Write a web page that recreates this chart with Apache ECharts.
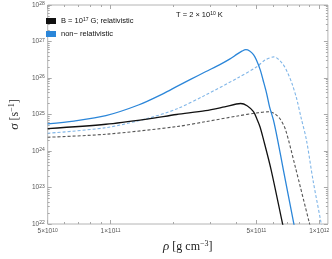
<!DOCTYPE html>
<html><head><meta charset="utf-8">
<script src="https://cdn.jsdelivr.net/npm/echarts@6/dist/echarts.min.js"></script>
<style>html,body{margin:0;padding:0;background:#fff}#c{width:332px;height:259px}</style>
</head><body><div id="c"></div>
<script>
// ---- data ----
const relSolidRho   = [5.0e10, 9.5e10, 1.5e11, 2.07e11, 2.85e11, 3.52e11, 4.2e11, 4.51e11, 4.84e11, 5.05e11, 5.2e11, 5.38e11, 5.88e11, 6.66e11, 6.85e11];
const relSolidSigma = [4.1e24, 5.4e24, 7.5e24, 1.0e25, 1.28e25, 1.62e25, 2.0e25, 1.74e25, 1.19e25, 7.1e24, 4.6e24, 2.28e24, 3.05e23, 1.06e22, 5.1e21];

const nonRelSolidRho   = [5.0e10, 6.68e10, 9.5e10, 1.36e11, 1.8e11, 2.07e11, 2.43e11, 2.85e11, 3.34e11, 3.72e11, 4.04e11, 4.26e11, 4.45e11, 4.64e11, 4.84e11, 5.0e11, 5.22e11, 5.38e11, 5.59e11, 5.78e11, 6.03e11, 6.32e11, 6.73e11, 7.54e11, 7.73e11];
const nonRelSolidSigma = [5.5e24, 6.6e24, 9.3e24, 1.82e25, 3.8e25, 5.8e25, 9.3e25, 1.48e26, 2.32e26, 3.28e26, 4.5e26, 5.43e26, 5.97e26, 5.5e26, 4.36e26, 3.1e26, 1.64e26, 8.8e25, 3.87e25, 1.62e25, 7.1e24, 2.0e24, 3.05e23, 1.07e22, 5.1e21];

const relDashRho   = [5.0e10, 9.5e10, 2.07e11, 2.85e11, 4.06e11, 5.0e11, 5.78e11, 6.2e11, 6.54e11, 6.9e11, 7.67e11, 8.99e11, 9.27e11];
const relDashSigma = [2.38e24, 2.88e24, 4.65e24, 6.36e24, 9.1e24, 1.1e25, 1.19e25, 9.9e24, 7.1e24, 3.77e24, 3.75e23, 1.0e22, 5.1e21];

const nonRelDashRho   = [5.0e10, 9.5e10, 1.51e11, 2.07e11, 2.85e11, 4.06e11, 5.0e11, 5.5e11, 6.06e11, 6.66e11, 7.02e11, 7.4e11, 7.8e11, 8.17e11, 8.68e11, 9.35e11, 1.018e12, 1.045e12];
const nonRelDashSigma = [3.06e24, 4.36e24, 7.87e24, 1.41e25, 3.41e25, 1.0e26, 2.0e26, 3.1e26, 3.8e26, 2.5e26, 1.48e26, 7.1e25, 2.66e25, 8.5e24, 2.0e24, 1.5e23, 1.15e22, 5.1e21];

const xTickValues = [5e10, 1e11, 5e11, 1e12];
const yTickValues = [1e22, 1e23, 1e24, 1e25, 1e26, 1e27, 1e28];
const legendNames = ['B = 10^17 G; relativistic', 'non\u2212 relativistic'];

// ---- helpers ----
const X_MIN = 5e10, X_MAX = 1.1e12, Y_MIN = 1e22, Y_MAX = 1e28;
const xMinor = [];
[6,7,8,9].forEach(m => xMinor.push(m * 1e10));
[2,3,4,6,7,8,9].forEach(m => xMinor.push(m * 1e11));
const yMinor = [];
for (let e = 22; e < 28; e++) for (let m = 2; m <= 9; m++) yMinor.push(m * Math.pow(10, e));

const pairs = (xs, ys) => xs.map((x, i) => [x, ys[i]]);
const tickColor = '#a8a8a8';
const labelRich = {
  b: { fontSize: 6.5, fontFamily: 'Liberation Sans', color: '#555' },
  s: { fontSize: 5, fontFamily: 'Liberation Sans', color: '#555', verticalAlign: 'top' }
};
function xFmt(v) {
  const e = Math.floor(Math.log10(v) + 1e-9);
  const m = Math.round(v / Math.pow(10, e));
  return '{b|' + m + '\u00d710}{s|' + e + '}';
}
function yFmt(v) {
  const e = Math.round(Math.log10(v));
  return '{b|10}{s|' + e + '}';
}
function xAx(pos, ticks, len, withLabels) {
  const a = {
    type: 'log', logBase: 10, min: X_MIN, max: X_MAX, position: pos, gridIndex: 0,
    axisLine: { show: false }, splitLine: { show: false },
    axisTick: { show: true, inside: true, length: len, customValues: ticks, lineStyle: { color: tickColor, width: 1 } },
    axisLabel: { show: false }
  };
  if (withLabels) {
    a.axisLabel = { show: true, customValues: xTickValues, formatter: xFmt, margin: 4, rich: labelRich };
    a.name = '{i|\u03c1} [g cm{s|\u22123}]';
    a.nameLocation = 'middle';
    a.nameGap = 15;
    a.nameTextStyle = {
      fontFamily: 'Liberation Serif', fontSize: 12, color: '#222',
      rich: {
        i: { fontFamily: 'Liberation Serif', fontStyle: 'italic', fontSize: 13, color: '#222' },
        s: { fontFamily: 'Liberation Serif', fontSize: 8, color: '#222', verticalAlign: 'top' }
      }
    };
  }
  return a;
}
function yAx(pos, ticks, len, withLabels) {
  const a = {
    type: 'log', logBase: 10, min: Y_MIN, max: Y_MAX, position: pos, gridIndex: 0,
    axisLine: { show: false }, splitLine: { show: false },
    axisTick: { show: true, inside: true, length: len, customValues: ticks, lineStyle: { color: tickColor, width: 1 } },
    axisLabel: { show: false }
  };
  if (withLabels) {
    a.axisLabel = { show: true, customValues: yTickValues, formatter: yFmt, margin: 3, rich: labelRich };
    a.name = '{i|\u03c3} [s{s|\u22121}]';
    a.nameLocation = 'middle';
    a.nameGap = 17;
    a.nameTextStyle = {
      fontFamily: 'Liberation Serif', fontSize: 12, color: '#222',
      rich: {
        i: { fontFamily: 'Liberation Serif', fontStyle: 'italic', fontSize: 13, color: '#222' },
        s: { fontFamily: 'Liberation Serif', fontSize: 8, color: '#222', verticalAlign: 'top' }
      }
    };
  }
  return a;
}

const BLACK = '#111111', BLUE = '#2b86d9', LBLUE = '#80b6e8', GREY = '#555555';
function line(name, data, color, dashed, width) {
  return {
    name, type: 'line', data, xAxisIndex: 0, yAxisIndex: 0,
    symbol: 'none', showSymbol: false, smooth: 0.3,
    color: color, itemStyle: { color: color },
    lineStyle: { color: color, width: width, type: dashed ? [3, 2] : 'solid' },
    z: dashed ? 2 : 3, clip: true
  };
}

const chart = echarts.init(document.getElementById('c'), null, { renderer: 'canvas' });
chart.setOption({
  animation: false,
  backgroundColor: '#fff',
  grid: { left: 36, top: 5, right: 4, bottom: 35, show: true, borderColor: '#b4b4b4', borderWidth: 1, backgroundColor: 'transparent' },
  legend: {
    data: legendNames, orient: 'vertical', left: 41, top: 12, itemGap: 5,
    icon: 'rect', itemWidth: 10, itemHeight: 6,
    formatter: function (n) {
      if (n === legendNames[0]) return '{t|B = 10}{s|17}{t| G; relativistic}';
      return '{t|' + n + '}';
    },
    textStyle: {
      fontSize: 7.5, fontFamily: 'Liberation Sans', color: '#111',
      rich: {
        t: { fontSize: 7.5, fontFamily: 'Liberation Sans', color: '#111' },
        s: { fontSize: 5, fontFamily: 'Liberation Sans', color: '#111', verticalAlign: 'top' }
      }
    }
  },
  graphic: [{
    type: 'text', left: 176, top: 11,
    style: {
      text: '{t|T = 2 \u00d7 10}{s|10}{t| K}',
      rich: {
        t: { fontSize: 7.5, fontFamily: 'Liberation Sans', fill: '#111' },
        s: { fontSize: 5, fontFamily: 'Liberation Sans', fill: '#111', verticalAlign: 'top' }
      }
    }
  }],
  xAxis: [xAx('bottom', xTickValues, 4, true), xAx('bottom', xMinor, 2, false), xAx('top', xTickValues, 4, false), xAx('top', xMinor, 2, false)],
  yAxis: [yAx('left', yTickValues, 4, true), yAx('left', yMinor, 2, false), yAx('right', yTickValues, 4, false), yAx('right', yMinor, 2, false)],
  series: [
    line('relDashed', pairs(relDashRho, relDashSigma), GREY, true, 1.1),
    line('nonRelDashed', pairs(nonRelDashRho, nonRelDashSigma), LBLUE, true, 1.1),
    line(legendNames[0], pairs(relSolidRho, relSolidSigma), BLACK, false, 1.3),
    line(legendNames[1], pairs(nonRelSolidRho, nonRelSolidSigma), BLUE, false, 1.3)
  ]
});
</script></body></html>
